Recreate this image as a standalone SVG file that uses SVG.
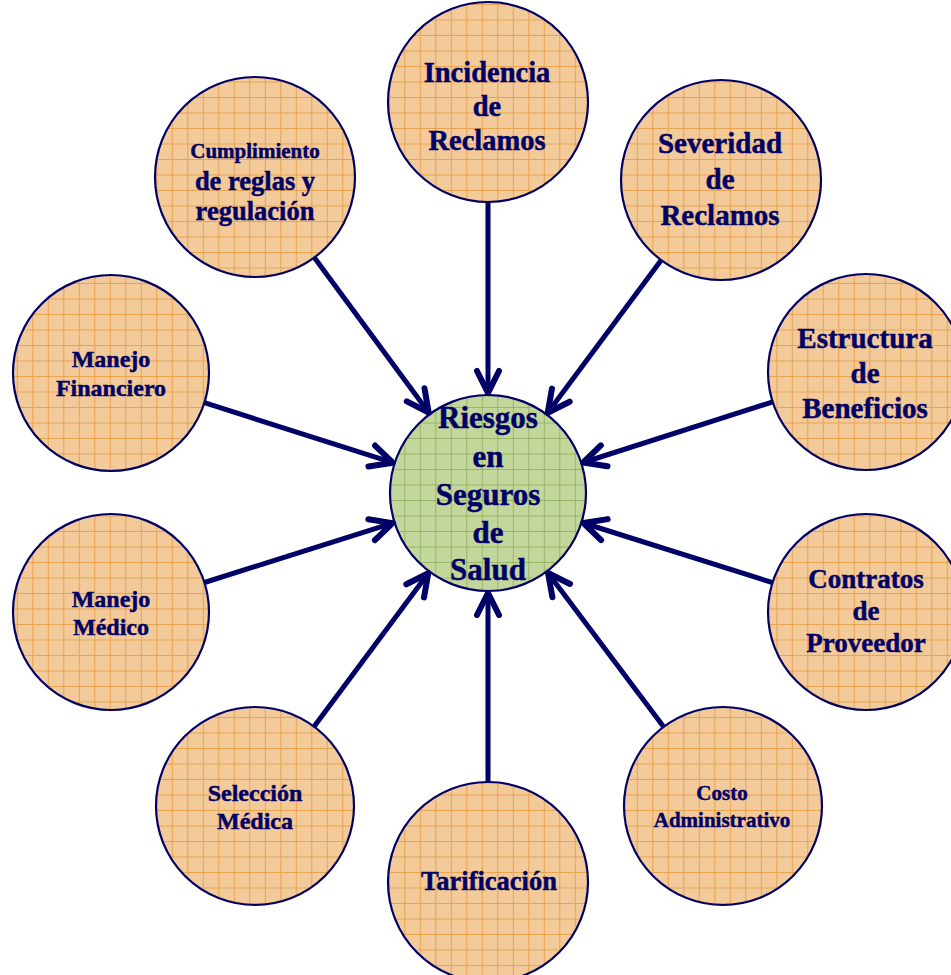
<svg xmlns="http://www.w3.org/2000/svg" width="951" height="975" viewBox="0 0 951 975">
  <style>
    .node { stroke: #000066; stroke-width: 2.2; }
    .orange { fill: url(#gridO); }
    .green { fill: url(#gridG); }
    .lbl { font-family: "Liberation Serif", "Times New Roman", serif; font-weight: bold; fill: #000066; stroke: #000066; stroke-width: 0.45; text-anchor: middle; }
    .conn { stroke: #000066; stroke-width: 5; fill: none; marker-end: url(#chev); }
  </style>
  <defs>
    <pattern id="gridO" patternUnits="userSpaceOnUse" x="1.3" y="4" width="15.5" height="15.5">
      <rect width="15.5" height="15.5" fill="#F3CA99"/>
      <path d="M0.5 0 V15.5 M0 0.5 H15.5" stroke="#E69A3F" stroke-width="1" fill="none" opacity="0.8"/>
    </pattern>
    <pattern id="gridG" patternUnits="userSpaceOnUse" x="1.3" y="4" width="15.5" height="15.5">
      <rect width="15.5" height="15.5" fill="#C3D69B"/>
      <path d="M0.5 0 V15.5 M0 0.5 H15.5" stroke="#8CAE58" stroke-width="1" fill="none" opacity="0.8"/>
    </pattern>
    <marker id="chev" markerUnits="userSpaceOnUse" viewBox="-30 -16 36 32" refX="0" refY="0" markerWidth="36" markerHeight="32" orient="auto" overflow="visible">
      <path d="M-22,-11 L0,0 L-22,11" fill="none" stroke="#000066" stroke-width="6" stroke-linecap="round" stroke-linejoin="round"/>
    </marker>
  </defs>

  <g id="n-incidencia">
    <circle class="node orange" cx="488" cy="102" r="100"/>
    <text class="lbl" font-size="28.5" x="487" y="82">Incidencia</text>
    <text class="lbl" font-size="28.5" x="487" y="116">de</text>
    <text class="lbl" font-size="28.5" x="487" y="150">Reclamos</text>
  </g>
  <g id="n-severidad">
    <circle class="node orange" cx="721" cy="180" r="100"/>
    <text class="lbl" font-size="29" x="720" y="153">Severidad</text>
    <text class="lbl" font-size="29" x="720" y="189">de</text>
    <text class="lbl" font-size="29" x="720" y="225">Reclamos</text>
  </g>
  <g id="n-estructura">
    <circle class="node orange" cx="866" cy="372" r="98"/>
    <text class="lbl" font-size="29" x="865" y="348">Estructura</text>
    <text class="lbl" font-size="29" x="865" y="383">de</text>
    <text class="lbl" font-size="29" x="865" y="418">Beneficios</text>
  </g>
  <g id="n-contratos">
    <circle class="node orange" cx="866" cy="612" r="98"/>
    <text class="lbl" font-size="27" x="866" y="588">Contratos</text>
    <text class="lbl" font-size="27" x="866" y="620">de</text>
    <text class="lbl" font-size="27" x="866" y="652">Proveedor</text>
  </g>
  <g id="n-costo">
    <circle class="node orange" cx="723" cy="806" r="99"/>
    <text class="lbl" font-size="21" x="722" y="800">Costo</text>
    <text class="lbl" font-size="21" x="722" y="827">Administrativo</text>
  </g>
  <g id="n-tarificacion">
    <circle class="node orange" cx="488" cy="882" r="100"/>
    <text class="lbl" font-size="26.5" x="489" y="890">Tarificación</text>
  </g>
  <g id="n-seleccion">
    <circle class="node orange" cx="255" cy="806" r="99"/>
    <text class="lbl" font-size="24" x="255" y="801">Selección</text>
    <text class="lbl" font-size="24" x="255" y="829">Médica</text>
  </g>
  <g id="n-manejo-medico">
    <circle class="node orange" cx="111" cy="612" r="98"/>
    <text class="lbl" font-size="24" x="111" y="607">Manejo</text>
    <text class="lbl" font-size="24" x="111" y="635">Médico</text>
  </g>
  <g id="n-manejo-financiero">
    <circle class="node orange" cx="111" cy="373" r="98"/>
    <text class="lbl" font-size="24" x="111" y="367">Manejo</text>
    <text class="lbl" font-size="24" x="111" y="396">Financiero</text>
  </g>
  <g id="n-cumplimiento">
    <circle class="node orange" cx="255" cy="177" r="100"/>
    <text class="lbl" font-size="21" x="255" y="158">Cumplimiento</text>
    <text class="lbl" font-size="26.5" x="255" y="190">de reglas y</text>
    <text class="lbl" font-size="26.5" x="255" y="220">regulación</text>
  </g>
  <g id="n-riesgos">
    <circle class="node green" cx="488" cy="493" r="98"/>
    <text class="lbl" font-size="31" x="488" y="428">Riesgos</text>
    <text class="lbl" font-size="31" x="488" y="467">en</text>
    <text class="lbl" font-size="31" x="488" y="505">Seguros</text>
    <text class="lbl" font-size="31" x="488" y="543">de</text>
    <text class="lbl" font-size="31" x="488" y="580">Salud</text>
  </g>

  <g id="connectors">
    <line class="conn" x1="488" y1="202" x2="488" y2="393"/>
    <line class="conn" x1="488" y1="782" x2="488" y2="593"/>
    <line class="conn" x1="661.3" y1="260" x2="547.7" y2="412.8"/>
    <line class="conn" x1="314.3" y1="257.5" x2="428.7" y2="412.5"/>
    <line class="conn" x1="772.7" y1="401.9" x2="583.2" y2="462.5"/>
    <line class="conn" x1="772.5" y1="582.6" x2="583.4" y2="523"/>
    <line class="conn" x1="204.4" y1="402.7" x2="392.7" y2="462.7"/>
    <line class="conn" x1="204.5" y1="582.5" x2="392.6" y2="523.1"/>
    <line class="conn" x1="314.1" y1="726.6" x2="428.3" y2="573.2"/>
    <line class="conn" x1="663.6" y1="726.8" x2="548" y2="573"/>
  </g>
</svg>
